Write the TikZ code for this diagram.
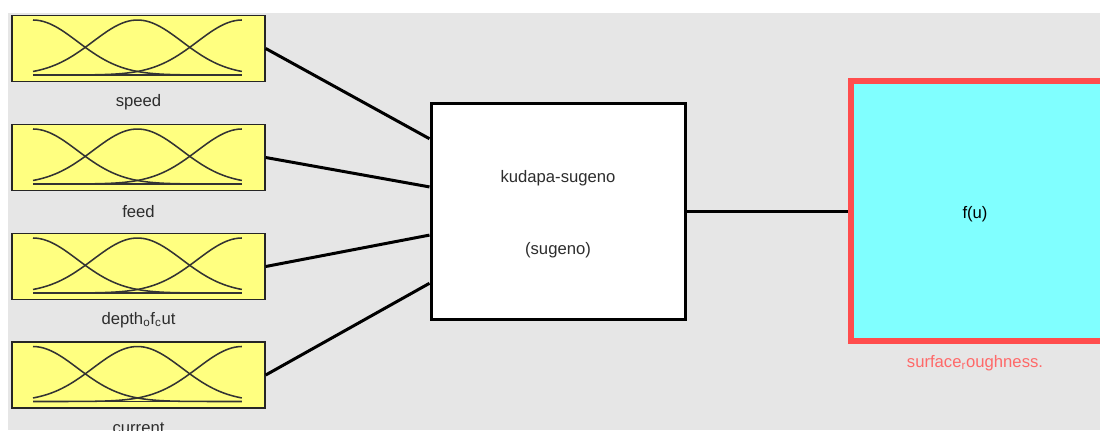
\documentclass[tikz,border=0pt]{standalone}
\usepackage{fontspec}
\setmainfont{Liberation Sans}
\usetikzlibrary{calc}

\definecolor{panel}{RGB}{230,230,230}
\definecolor{mfyellow}{RGB}{255,255,128}
\definecolor{outcyan}{RGB}{128,255,255}
\definecolor{outred}{RGB}{255,77,77}
\definecolor{labred}{RGB}{255,105,105}
\definecolor{txt}{RGB}{45,45,45}

\tikzset{
  mfbox/.style={draw=black!85,line width=1.1pt,fill=mfyellow,minimum width=189.75pt,minimum height=49.5pt,inner sep=0pt},
  mfcurve/.style={draw=black!80,line width=1.15pt},
  vname/.style={text=txt,font=\fontsize{12.5}{15}\selectfont,inner sep=0.75pt},
  wire/.style={line width=2.25pt},
}

\begin{document}
\begin{tikzpicture}[x=0.75pt,y=0.75pt,yscale=-1,xscale=1]
        \useasboundingbox (0,0) rectangle (1100,430);
        \clip (0,0) rectangle (1100,430);
        \fill[white] (0,0) rectangle (1100,430);
        \fill[panel] (8,13) rectangle (1100,430);

        % Input boxes
        \node[mfbox] (speed) at (138.5,48.5) {};
        \node[mfbox] (feed) at (138.5,157.5) {};
        \node[mfbox] (depth) at (138.5,266.5) {};
        \node[mfbox] (current) at (138.5,375) {};

        % Membership curves
        \foreach \n in {speed,feed,depth,current}{
          \begin{scope}[shift={(\n.center)}]
            \draw[mfcurve] (-105.5,26.5) -- (103.5,26.5);
            \draw[mfcurve] plot[domain=0:1,samples=60,smooth] ({-105.5+209*\x},{26.5-55*exp(-0.5*(\x/0.2134)^2)});
            \draw[mfcurve] plot[domain=0:1,samples=60,smooth] ({-105.5+209*\x},{26.5-55*exp(-0.5*((\x-0.5)/0.2134)^2)});
            \draw[mfcurve] plot[domain=0:1,samples=60,smooth] ({-105.5+209*\x},{26.5-55*exp(-0.5*((\x-1)/0.2134)^2)});
          \end{scope}
        }

        % Text Node
        \node[vname] (speedlab) at (138.5,102.5) {speed};
        % Text Node
        \node[vname] (feedlab) at (138.5,211.5) {feed};
        % Text Node
        \node[vname] (depthlab) at (138.5,320) {depth\textsubscript{o}f\textsubscript{c}ut};
        % Text Node
        \node[vname] (currentlab) at (138.5,428) {current};

        % Rule block
        \node[draw,line width=2.25pt,fill=white,minimum width=190.5pt,minimum height=162pt] (fis) at (558,211) {};
        % Text Node
        \node[vname] (fisname) at (558,178) {kudapa-sugeno};
        % Text Node
        \node[vname] (fistype) at (558,250) {(sugeno)};

        % Output block (runs past the right edge)
        \node[draw=outred,line width=4.5pt,fill=outcyan,minimum width=195pt,minimum height=195pt] (out) at (981,211) {};
        % Text Node
        \node[vname,text=black] (outfn) at (975,214) {f(u)};
        % Text Node
        \node[vname,text=labred] (outlab) at (975,363) {surface\textsubscript{r}oughness.};

        % Connectors
        \foreach \n/\f in {speed/0.17,feed/0.39,depth/0.61,current/0.83}
          \draw[wire] (\n.east) -- ($(fis.north west)!\f!(fis.south west)$);
        \draw[wire] (fis.east) -- (out.west);

\end{tikzpicture}
\end{document}
